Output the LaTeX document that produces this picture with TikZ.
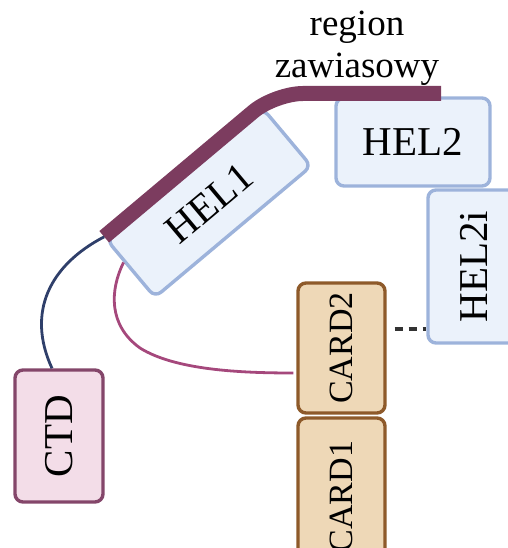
\documentclass[tikz,border=0pt]{standalone}
\usepackage{fontspec}
\setmainfont{Liberation Serif}
\usetikzlibrary{calc}
\definecolor{helfill}{HTML}{EBF2FB}
\definecolor{helline}{HTML}{9DB3DB}
\definecolor{ctdfill}{HTML}{F3DDE8}
\definecolor{ctdline}{HTML}{84466A}
\definecolor{cardfill}{HTML}{EED8B7}
\definecolor{cardline}{HTML}{8E5A2A}
\definecolor{barcol}{HTML}{7C3C5F}
\definecolor{navy}{HTML}{2F3F6A}
\definecolor{mag}{HTML}{A5487C}
\tikzset{
  box/.style={draw, line width=3.4pt, rounded corners=8pt, inner sep=0pt},
  hel/.style={box, fill=helfill, draw=helline, font=\fontsize{41}{49}\selectfont},
  ctd/.style={box, fill=ctdfill, draw=ctdline, font=\fontsize{41}{49}\selectfont},
  card/.style={box, fill=cardfill, draw=cardline, font=\fontsize{34}{40}\selectfont},
  bar/.style={draw=barcol, line width=15pt, line cap=butt, rounded corners=28pt},
  link/.style={line width=2.8pt},
}
\begin{document}
\begin{tikzpicture}[x=1pt,y=-1pt]
\useasboundingbox (0,0) rectangle (507,548);
\node[font=\fontsize{37}{42}\selectfont, align=center, inner sep=0pt] (title) at (357,48.5) {region\\zawiasowy};
\node[hel, minimum width=154pt, minimum height=88pt] (HEL2) at (413,142) {HEL2};
\node[hel, rotate=90, minimum width=153pt, minimum height=92pt] (HEL2i) at (474,266.5) {HEL2i};
\node[hel, rotate=40, minimum width=204pt, minimum height=75pt] (HEL1) at (209,203) {HEL1};
\node[ctd, rotate=90, minimum width=132pt, minimum height=88pt] (CTD) at (59,436) {CTD};
\node[card, rotate=90, minimum width=130pt, minimum height=87pt] (CARD2) at (341.5,348) {CARD2};
\node[card, rotate=90, minimum width=157pt, minimum height=87pt] (CARD1) at (341.5,496.5) {CARD1};
\coordinate (b1) at (104.2,236.8);
\coordinate (b2) at (274.9,93.5);
\coordinate (b3) at (441,93.5);
\draw[bar] (b1) -- (b2) -- (b3);
\draw[link, navy] (b1) .. controls (50,265) and (26,312) .. ($(CTD.east)+(-7,0)$);
\coordinate (m1) at ($(HEL1.north west)!0.38!(HEL1.south west)$);
\coordinate (m2) at (140,348);
\draw[link, mag] (m1) .. controls (110,290) and (108,325) .. (m2)
  .. controls (175,370) and (240,373) .. ($(CARD2.north)+(-3,25)$);
\coordinate (d1) at ($(CARD2.south)+(8,-19)$);
\draw[link, black!80, line width=3.2pt, dash pattern=on 8pt off 6pt] (d1) -- (d1 -| HEL2i.north);
\end{tikzpicture}
\end{document}
